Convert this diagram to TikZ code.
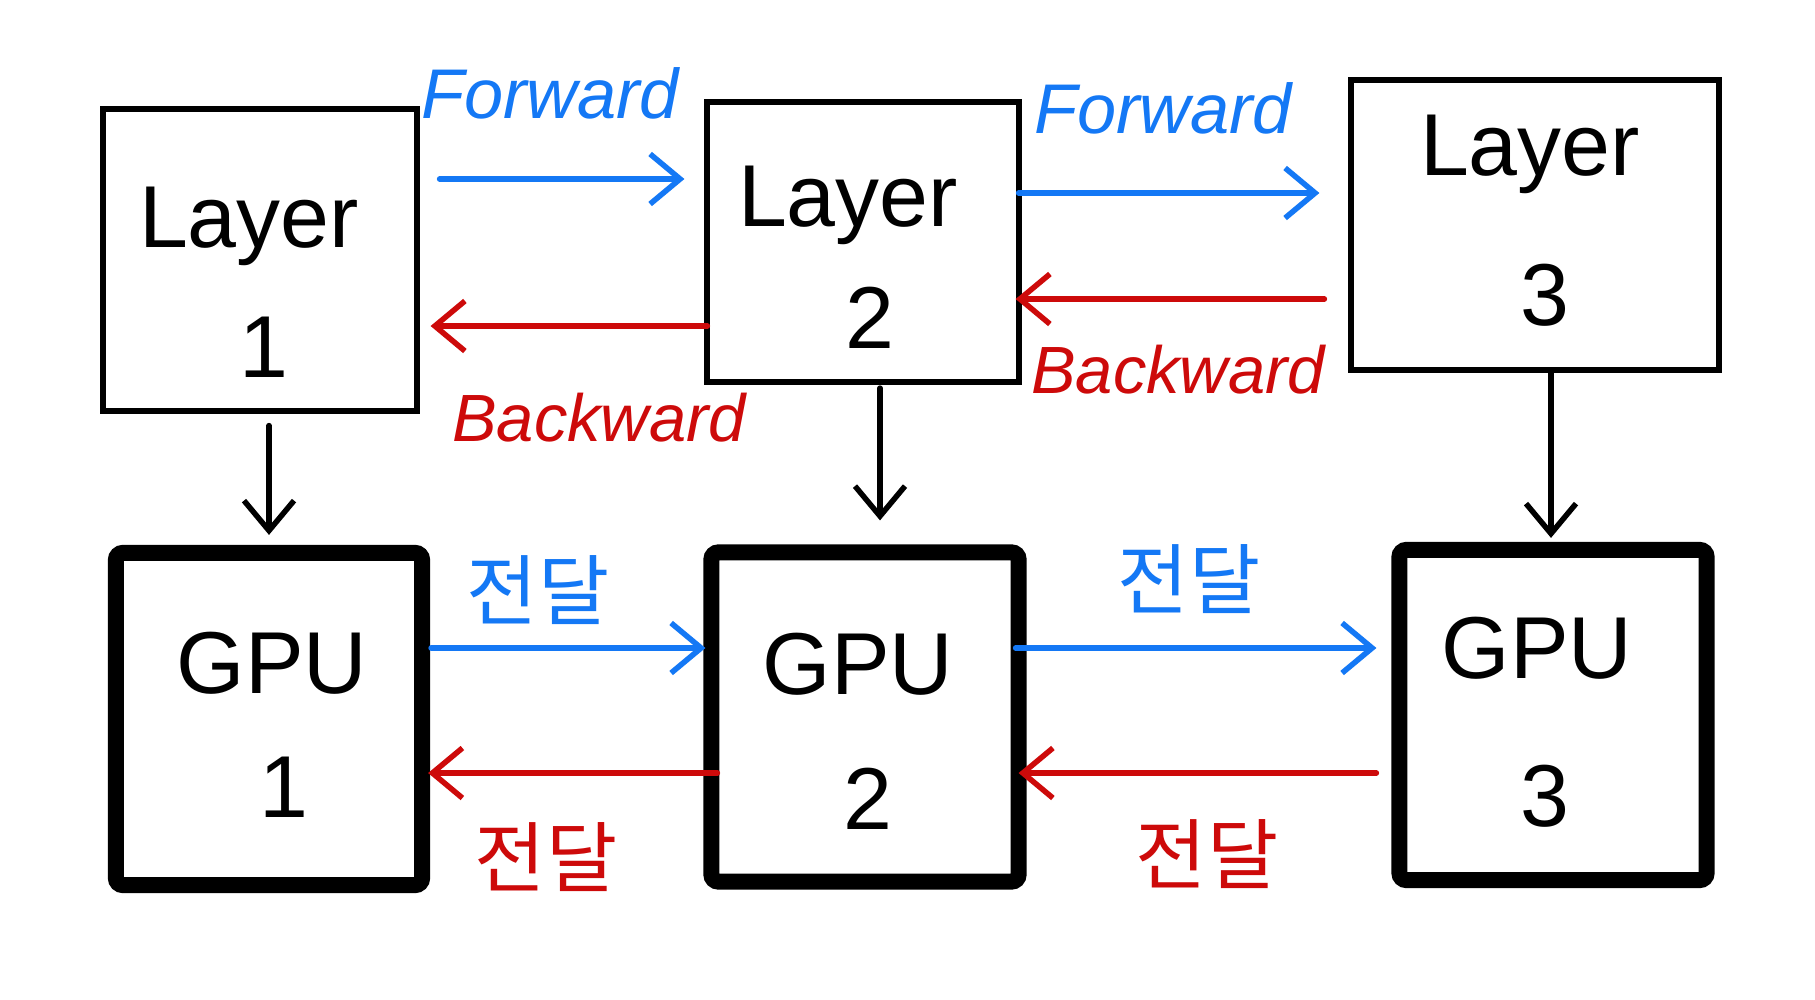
\documentclass[tikz,border=0pt]{standalone}
\usepackage{fontspec}
\setmainfont{Liberation Sans}
\newfontfamily\krfont{Noto Sans CJK KR}
\usetikzlibrary{arrows.meta,calc}
\definecolor{fblue}{RGB}{20,120,245}
\definecolor{bred}{RGB}{205,10,10}
\begin{document}
\begin{tikzpicture}[x=0.01cm,y=-0.01cm,
  layerbox/.style={draw=black,line width=0.06cm,outer sep=0pt,inner sep=0pt},
  gpubox/.style={draw=black,line width=0.16cm,rounded corners=2pt,outer sep=0pt,inner sep=0pt},
  bigtxt/.style={font=\fontsize{25}{30}\selectfont,inner sep=0pt},
  fwdtxt/.style={text=fblue,font=\fontsize{20}{24}\selectfont\itshape,inner sep=0pt},
  bwdtxt/.style={text=bred,font=\fontsize{19}{23}\selectfont\itshape,inner sep=0pt},
  krblue/.style={text=fblue,font=\krfont\fontsize{22}{26}\selectfont,inner sep=0pt},
  krred/.style={text=bred,font=\krfont\fontsize{22}{26}\selectfont,inner sep=0pt},
  tip/.style={-{Straight Barb[length=0.3cm,width=0.5cm,line width=0.055cm]}},
  fwd/.style={tip,draw=fblue,line width=0.055cm,line cap=round},
  bwd/.style={tip,draw=bred,line width=0.055cm,line cap=round},
  down/.style={tip,draw=black,line width=0.055cm,line cap=round}]
\useasboundingbox[fill=white] (0,0) rectangle (1815,1000);

% Layer boxes
\node[layerbox,minimum width=3.13cm,minimum height=3.01cm] (l1) at (260,260) {};
\node[layerbox,minimum width=3.11cm,minimum height=2.80cm] (l2) at (863,242) {};
\node[layerbox,minimum width=3.67cm,minimum height=2.89cm] (l3) at (1535,225) {};

% GPU boxes
\node[gpubox,minimum width=3.06cm,minimum height=3.32cm] (g1) at (269,719) {};
\node[gpubox,minimum width=3.07cm,minimum height=3.29cm] (g2) at (865,717) {};
\node[gpubox,minimum width=3.07cm,minimum height=3.30cm] (g3) at (1553,715) {};

% Box texts
\node[bigtxt] (t1a) at (249,226) {Layer};
\node[bigtxt] (t1b) at (264,347) {1};
\node[bigtxt] (t2a) at (848,205) {Layer};
\node[bigtxt] (t2b) at (870,318) {2};
\node[bigtxt] (t3a) at (1530,154) {Layer};
\node[bigtxt] (t3b) at (1545,295) {3};
\node[bigtxt] (u1a) at (272,663) {GPU};
\node[bigtxt] (u1b) at (284,787) {1};
\node[bigtxt] (u2a) at (858,664) {GPU};
\node[bigtxt] (u2b) at (868,799) {2};
\node[bigtxt] (u3a) at (1537,648) {GPU};
\node[bigtxt] (u3b) at (1545,796) {3};

% Layer arrows
\draw[fwd] ($(l1.east)+(23,-81)$) -- ($(l2.west)+(-23,-63)$);
\draw[bwd] ($(l2.west)+(0,84)$) -- ($(l1.east)+(14,66)$);
\draw[fwd] ($(l2.east)+(0,-49)$) -- ($(l3.west)+(-32,-32)$);
\draw[bwd] ($(l3.west)+(-27,74)$) -- ($(l2.east)+(-3,57)$);

% Down arrows
\draw[down] ($(l1.south)+(9,15)$) -- ($(g1.north)+(0,-18)$);
\draw[down] ($(l2.south)+(17,6)$) -- ($(g2.north)+(15,-32)$);
\draw[down] ($(l3.south)+(16,3)$) -- ($(g3.north)+(-2,-12)$);

% GPU arrows
\draw[fwd] ($(g1.east)+(9,-71)$) -- ($(g2.west)+(-6,-69)$);
\draw[bwd] ($(g2.west)+(6,56)$) -- ($(g1.east)+(6,54)$);
\draw[fwd] ($(g2.east)+(-3,-69)$) -- ($(g3.west)+(-23,-67)$);
\draw[bwd] ($(g3.west)+(-23,58)$) -- ($(g2.east)+(0,56)$);

% Labels
\node[fwdtxt] (f1) at (550,93) {Forward};
\node[fwdtxt] (f2) at (1163,108) {Forward};
\node[bwdtxt] (b1) at (599,418) {Backward};
\node[bwdtxt] (b2) at (1178,370) {Backward};
\node[krblue] (k1) at (538,590) {전달};
\node[krred] (k2) at (546,857) {전달};
\node[krblue] (k3) at (1189,579) {전달};
\node[krred] (k4) at (1207,854) {전달};
\end{tikzpicture}
\end{document}
